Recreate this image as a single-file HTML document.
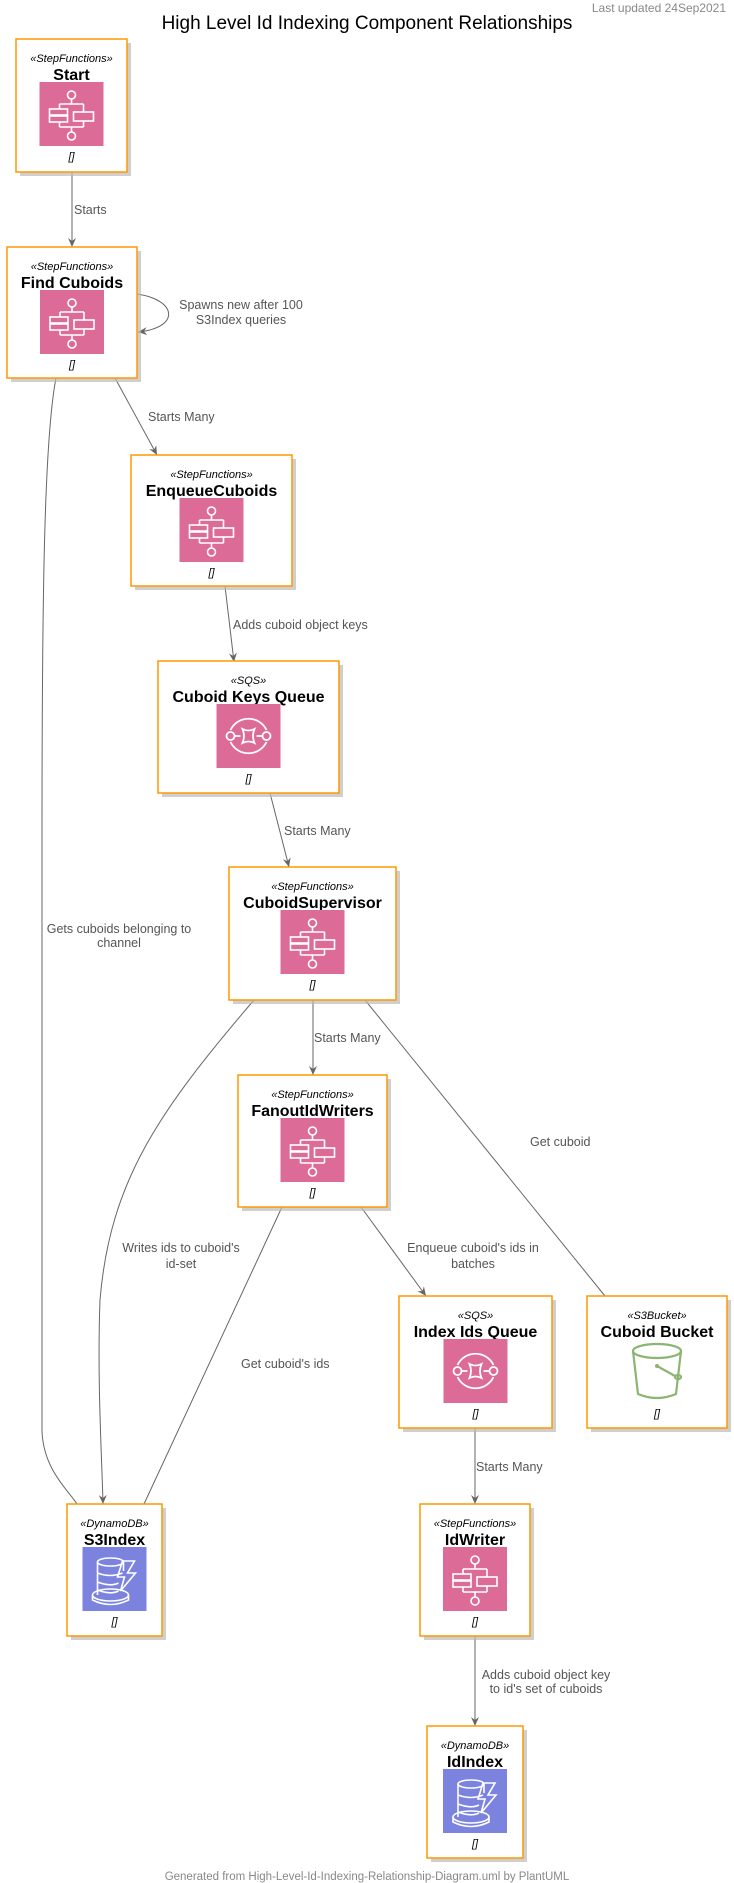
<!DOCTYPE html>
<html><head><meta charset="utf-8"><style>
html,body{margin:0;padding:0;background:#fff;}
svg{display:block;}
text{font-family:"Liberation Sans",sans-serif;}
.st{font-size:11px;font-style:italic;fill:#000;}
.nm{font-size:16px;font-weight:bold;fill:#000;}
.br{font-size:11px;font-style:italic;fill:#000;}
.lb{font-size:12.5px;fill:#555;}
.ln{fill:none;stroke:#666;stroke-width:1;}
.box{fill:#fff;stroke:#FF9900;stroke-width:1.5;}
.sh{fill:#bbb;opacity:.7;}
</style></head><body>
<svg width="734" height="1883" viewBox="0 0 734 1883" xmlns="http://www.w3.org/2000/svg">
<defs>
<marker id="ar" markerWidth="10" markerHeight="10" refX="9" refY="4" orient="auto" markerUnits="userSpaceOnUse">
<path d="M0,0 L9,4 L0,8 L3,4 z" fill="#666"/>
</marker>
<g id="sf">
<rect width="64" height="64" fill="#DD6B98"/>
<g fill="none" stroke="#fff" stroke-width="1.6">
<circle cx="32" cy="13" r="4"/>
<path d="M32 17V22 M20 22H44 M20 22V27 M44 22V30 M20 40V45 M44 39V45 M20 45H44 M32 45V50"/>
<rect x="10" y="27" width="18" height="6"/>
<rect x="10" y="34" width="18" height="6"/>
<rect x="34" y="30" width="20" height="9"/>
<circle cx="32" cy="54" r="4"/>
</g></g>
<g id="sqs">
<rect width="64" height="64" fill="#DD6B98"/>
<g fill="none" stroke="#fff" stroke-width="1.8">
<path d="M14 26 A20 20 0 0 1 50 26 M14 38 A20 20 0 0 0 50 38"/>
<circle cx="14" cy="32" r="4"/><circle cx="50" cy="32" r="4"/>
<path d="M18 32H24 M40 32H46 M26 25 Q32 28 38 25 Q35 32 38 39 Q32 36 26 39 Q29 32 26 25z"/>
</g></g>
<g id="ddb">
<rect width="64" height="64" fill="#7B83DE"/>
<g fill="none" stroke="#fff" stroke-width="1.6">
<ellipse cx="28" cy="15" rx="13" ry="4"/>
<path d="M15 15V48 M41 15V24 M15 26 Q28 31 40 26 M15 35 Q28 40 36 36 M15 43 Q28 48 36 44"/>
<ellipse cx="28" cy="48" rx="18" ry="6"/>
<path d="M10 48V53 Q28 62 46 53V48"/>
<path d="M40 14H52L45 26H53L38 44L42 30H35z"/>
</g></g>
<g id="s3">
<g fill="none" stroke="#8AB572" stroke-width="2.2">
<ellipse cx="32" cy="12" rx="24" ry="7"/>
<path d="M8 12 L13 55 Q32 63 51 55 L56 12"/>
<path d="M32 27 L50 37"/>
<ellipse cx="53" cy="38" rx="3" ry="2"/>
</g>
<circle cx="32" cy="27" r="2" fill="#8AB572"/>
</g>
</defs>

<text x="726" y="12" text-anchor="end" style="font-size:12px;fill:#888">Last updated 24Sep2021</text>
<text x="367" y="29" text-anchor="middle" style="font-size:19px;fill:#000">High Level Id Indexing Component Relationships</text>

<path class="ln" marker-end="url(#ar)" d="M72 172 V247"/>
<text class="lb" x="74" y="214">Starts</text>

<path class="ln" marker-end="url(#ar)" d="M137 294 C178 300 180 328 138 332"/>
<text class="lb" x="241" y="309" text-anchor="middle">Spawns new after 100</text>
<text class="lb" x="241" y="324" text-anchor="middle">S3Index queries</text>

<path class="ln" marker-end="url(#ar)" d="M115 378 L157 455"/>
<text class="lb" x="148" y="421">Starts Many</text>

<path class="ln" d="M56 378 C44 440 42 600 42 842 V1432 C44 1470 68 1490 77 1504"/>
<text class="lb" x="119" y="933" text-anchor="middle">Gets cuboids belonging to</text>
<text class="lb" x="119" y="947" text-anchor="middle">channel</text>

<path class="ln" marker-end="url(#ar)" d="M225 586 L234 662"/>
<text class="lb" x="233" y="629">Adds cuboid object keys</text>

<path class="ln" marker-end="url(#ar)" d="M270 793 L289 867"/>
<text class="lb" x="284" y="835">Starts Many</text>

<path class="ln" marker-end="url(#ar)" d="M313 1000 V1075"/>
<text class="lb" x="314" y="1042">Starts Many</text>

<path class="ln" marker-end="url(#ar)" d="M254 1000 C160 1110 110 1180 100 1300 C97 1380 102 1460 103 1504"/>
<text class="lb" x="181" y="1252" text-anchor="middle">Writes ids to cuboid's</text>
<text class="lb" x="181" y="1268" text-anchor="middle">id-set</text>

<path class="ln" d="M282 1207 L144 1504"/>
<text class="lb" x="241" y="1368">Get cuboid's ids</text>

<path class="ln" marker-end="url(#ar)" d="M361 1207 L426 1296"/>
<text class="lb" x="473" y="1252" text-anchor="middle">Enqueue cuboid's ids in</text>
<text class="lb" x="473" y="1268" text-anchor="middle">batches</text>

<path class="ln" d="M365 1000 L605 1296"/>
<text class="lb" x="530" y="1146">Get cuboid</text>

<path class="ln" marker-end="url(#ar)" d="M475 1428 V1504"/>
<text class="lb" x="476" y="1471">Starts Many</text>

<path class="ln" marker-end="url(#ar)" d="M475 1636 V1726"/>
<text class="lb" x="546" y="1679" text-anchor="middle">Adds cuboid object key</text>
<text class="lb" x="546" y="1693" text-anchor="middle">to id's set of cuboids</text>

<g transform="translate(16,39)"><rect class="sh" x="4" y="4" width="111" height="133"/><rect class="box" width="111" height="133"/>
<text class="st" x="55.5" y="23" text-anchor="middle">«StepFunctions»</text><text class="nm" x="55.5" y="41" text-anchor="middle">Start</text>
<use href="#sf" x="23.5" y="43"/><text class="br" x="55.5" y="121" text-anchor="middle">[]</text></g>

<g transform="translate(7,247)"><rect class="sh" x="4" y="4" width="130" height="131"/><rect class="box" width="130" height="131"/>
<text class="st" x="65" y="23" text-anchor="middle">«StepFunctions»</text><text class="nm" x="65" y="41" text-anchor="middle">Find Cuboids</text>
<use href="#sf" x="33" y="43"/><text class="br" x="65" y="121" text-anchor="middle">[]</text></g>

<g transform="translate(131,455)"><rect class="sh" x="4" y="4" width="161" height="131"/><rect class="box" width="161" height="131"/>
<text class="st" x="80.5" y="23" text-anchor="middle">«StepFunctions»</text><text class="nm" x="80.5" y="41" text-anchor="middle">EnqueueCuboids</text>
<use href="#sf" x="48.5" y="43"/><text class="br" x="80.5" y="121" text-anchor="middle">[]</text></g>

<g transform="translate(158,661)"><rect class="sh" x="4" y="4" width="181" height="132"/><rect class="box" width="181" height="132"/>
<text class="st" x="90.5" y="23" text-anchor="middle">«SQS»</text><text class="nm" x="90.5" y="41" text-anchor="middle">Cuboid Keys Queue</text>
<use href="#sqs" x="58.5" y="43"/><text class="br" x="90.5" y="121" text-anchor="middle">[]</text></g>

<g transform="translate(229,867)"><rect class="sh" x="4" y="4" width="167" height="133"/><rect class="box" width="167" height="133"/>
<text class="st" x="83.5" y="23" text-anchor="middle">«StepFunctions»</text><text class="nm" x="83.5" y="41" text-anchor="middle">CuboidSupervisor</text>
<use href="#sf" x="51.5" y="43"/><text class="br" x="83.5" y="121" text-anchor="middle">[]</text></g>

<g transform="translate(238,1075)"><rect class="sh" x="4" y="4" width="149" height="132"/><rect class="box" width="149" height="132"/>
<text class="st" x="74.5" y="23" text-anchor="middle">«StepFunctions»</text><text class="nm" x="74.5" y="41" text-anchor="middle">FanoutIdWriters</text>
<use href="#sf" x="42.5" y="43"/><text class="br" x="74.5" y="121" text-anchor="middle">[]</text></g>

<g transform="translate(399,1296)"><rect class="sh" x="4" y="4" width="153" height="132"/><rect class="box" width="153" height="132"/>
<text class="st" x="76.5" y="23" text-anchor="middle">«SQS»</text><text class="nm" x="76.5" y="41" text-anchor="middle">Index Ids Queue</text>
<use href="#sqs" x="44.5" y="43"/><text class="br" x="76.5" y="121" text-anchor="middle">[]</text></g>

<g transform="translate(587,1296)"><rect class="sh" x="4" y="4" width="140" height="132"/><rect class="box" width="140" height="132"/>
<text class="st" x="70" y="23" text-anchor="middle">«S3Bucket»</text><text class="nm" x="70" y="41" text-anchor="middle">Cuboid Bucket</text>
<use href="#s3" x="38" y="43"/><text class="br" x="70" y="121" text-anchor="middle">[]</text></g>

<g transform="translate(67,1504)"><rect class="sh" x="4" y="4" width="95" height="132"/><rect class="box" width="95" height="132"/>
<text class="st" x="47.5" y="23" text-anchor="middle">«DynamoDB»</text><text class="nm" x="47.5" y="41" text-anchor="middle">S3Index</text>
<use href="#ddb" x="15.5" y="43"/><text class="br" x="47.5" y="121" text-anchor="middle">[]</text></g>

<g transform="translate(420,1504)"><rect class="sh" x="4" y="4" width="110" height="132"/><rect class="box" width="110" height="132"/>
<text class="st" x="55" y="23" text-anchor="middle">«StepFunctions»</text><text class="nm" x="55" y="41" text-anchor="middle">IdWriter</text>
<use href="#sf" x="23" y="43"/><text class="br" x="55" y="121" text-anchor="middle">[]</text></g>

<g transform="translate(427,1726)"><rect class="sh" x="4" y="4" width="96" height="132"/><rect class="box" width="96" height="132"/>
<text class="st" x="48" y="23" text-anchor="middle">«DynamoDB»</text><text class="nm" x="48" y="41" text-anchor="middle">IdIndex</text>
<use href="#ddb" x="16" y="43"/><text class="br" x="48" y="121" text-anchor="middle">[]</text></g>

<text x="367" y="1880" text-anchor="middle" style="font-size:11.5px;fill:#888">Generated from High-Level-Id-Indexing-Relationship-Diagram.uml by PlantUML</text>
</svg>
</body></html>
